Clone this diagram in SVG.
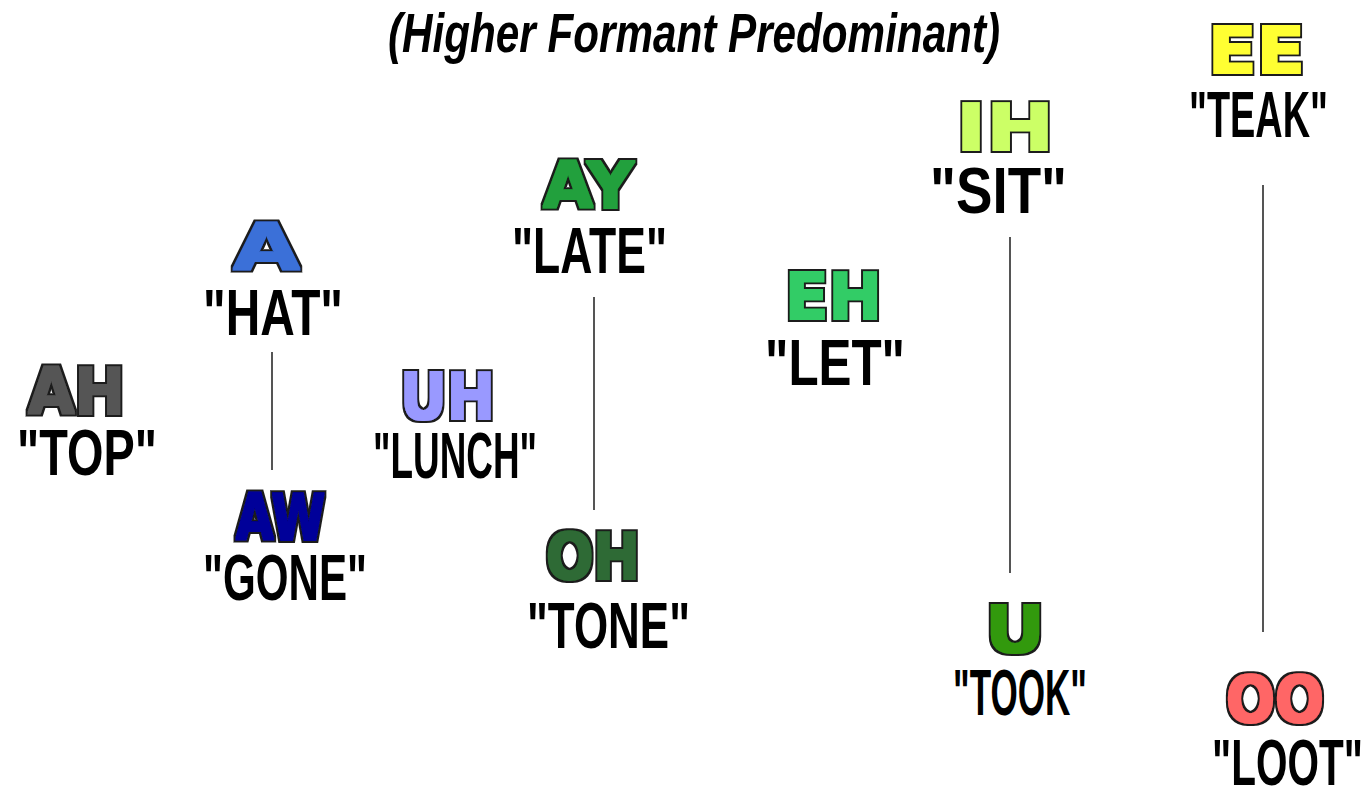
<svg xmlns="http://www.w3.org/2000/svg" width="1369" height="787" viewBox="0 0 1369 787">
  <defs>
    <filter id="fat" x="-10%" y="-20%" width="120%" height="140%">
      <feMorphology in="SourceAlpha" operator="dilate" radius="3" result="outer"/>
      <feFlood flood-color="#1e1e1e"/>
      <feComposite in2="outer" operator="in" result="outline"/>
      <feMorphology in="SourceGraphic" operator="dilate" radius="0.8" result="fatfill"/>
      <feMerge>
        <feMergeNode in="outline"/>
        <feMergeNode in="fatfill"/>
      </feMerge>
    </filter>
  </defs>
  <style>
    .v { font-family: "DejaVu Sans", "Liberation Sans", sans-serif; font-weight: bold; font-size: 64px; filter: url(#fat); }
    .w { font-family: "Liberation Sans", Arial, sans-serif; font-weight: bold; font-size: 64px; fill: #000; }
    .t { font-family: "Liberation Sans", Arial, sans-serif; font-weight: bold; font-style: italic; font-size: 56px; fill: #000; }
    .ln { stroke: #555; stroke-width: 2; fill: none; }
  </style>
  <rect width="1369" height="787" fill="#fff"/>
  <text id="title" class="t" x="388" y="52" textLength="612" lengthAdjust="spacingAndGlyphs">(Higher Formant Predominant)</text>
  <g id="connectors">
    <line class="ln" x1="272" y1="352" x2="272" y2="470"/>
    <line class="ln" x1="594" y1="297" x2="594" y2="510"/>
    <line class="ln" x1="1010" y1="237" x2="1010" y2="573"/>
    <line class="ln" x1="1263" y1="185" x2="1263" y2="632"/>
  </g>
  <g id="node-AH">
    <text class="v" fill="#555555" x="28" y="414" textLength="97" lengthAdjust="spacingAndGlyphs">AH</text>
    <text class="w" x="17" y="475" textLength="140" lengthAdjust="spacingAndGlyphs">"TOP"</text>
  </g>
  <g id="node-A">
    <text class="v" fill="#3a6fd8" x="233" y="270" textLength="67" lengthAdjust="spacingAndGlyphs">A</text>
    <text class="w" x="203" y="335" textLength="140" lengthAdjust="spacingAndGlyphs">"HAT"</text>
  </g>
  <g id="node-AW">
    <text class="v" fill="#000099" x="236" y="540" textLength="89" lengthAdjust="spacingAndGlyphs">AW</text>
    <text class="w" x="203" y="600" textLength="164" lengthAdjust="spacingAndGlyphs">"GONE"</text>
  </g>
  <g id="node-UH">
    <text class="v" fill="#9999ff" x="400" y="419" textLength="95" lengthAdjust="spacingAndGlyphs">UH</text>
    <text class="w" x="373" y="478" textLength="164" lengthAdjust="spacingAndGlyphs">"LUNCH"</text>
  </g>
  <g id="node-AY">
    <text class="v" fill="#22a03c" x="543" y="208" textLength="91" lengthAdjust="spacingAndGlyphs">AY</text>
    <text class="w" x="512" y="273" textLength="155" lengthAdjust="spacingAndGlyphs">"LATE"</text>
  </g>
  <g id="node-OH">
    <text class="v" fill="#2d6a35" x="546" y="579" textLength="94" lengthAdjust="spacingAndGlyphs">OH</text>
    <text class="w" x="527" y="648" textLength="163" lengthAdjust="spacingAndGlyphs">"TONE"</text>
  </g>
  <g id="node-EH">
    <text class="v" fill="#33cc66" x="785" y="319" textLength="97" lengthAdjust="spacingAndGlyphs">EH</text>
    <text class="w" x="765" y="385" textLength="140" lengthAdjust="spacingAndGlyphs">"LET"</text>
  </g>
  <g id="node-IH">
    <text class="v" fill="#ccff66" x="956" y="150" textLength="98" lengthAdjust="spacingAndGlyphs">IH</text>
    <text class="w" x="930" y="213" textLength="137" lengthAdjust="spacingAndGlyphs">"SIT"</text>
  </g>
  <g id="node-EE">
    <text class="v" fill="#ffff33" x="1208" y="73" textLength="97" lengthAdjust="spacingAndGlyphs">EE</text>
    <text class="w" x="1189" y="137" textLength="139" lengthAdjust="spacingAndGlyphs">"TEAK"</text>
  </g>
  <g id="node-U">
    <text class="v" fill="#339911" x="985" y="652" textLength="60" lengthAdjust="spacingAndGlyphs">U</text>
    <text class="w" x="953" y="715" textLength="134" lengthAdjust="spacingAndGlyphs">"TOOK"</text>
  </g>
  <g id="node-OO">
    <text class="v" fill="#ff6666" x="1226" y="722" textLength="98" lengthAdjust="spacingAndGlyphs">OO</text>
    <text class="w" x="1212" y="785" textLength="151" lengthAdjust="spacingAndGlyphs">"LOOT"</text>
  </g>
</svg>
